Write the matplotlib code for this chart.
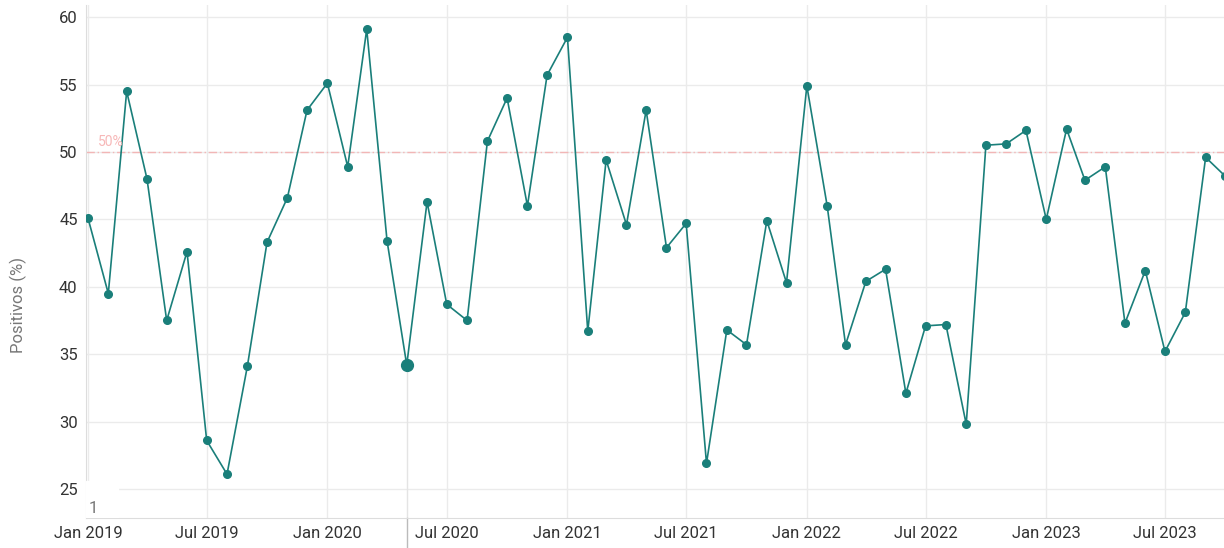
import numpy as np
import pandas as pd
import matplotlib
matplotlib.use("Agg")
import matplotlib.pyplot as plt
import matplotlib.transforms as mtransforms

plt.rcParams["font.family"] = ["Roboto", "DejaVu Sans"]

# monthly positivity (%), Jan 2019 .. Oct 2023
months = pd.date_range("2019-01-01", "2023-10-01", freq="MS")
positivos = [
    45.1, 39.5, 54.5, 48.0, 37.5, 42.6, 28.6, 26.1, 34.1, 43.3, 46.6, 53.1,
    55.1, 48.9, 59.1, 43.4, 34.2, 46.3, 38.7, 37.5, 50.8, 54.0, 46.0, 55.7,
    58.5, 36.7, 49.4, 44.6, 53.1, 42.9, 44.7, 26.9, 36.8, 35.7, 44.9, 40.3,
    54.9, 46.0, 35.7, 40.4, 41.3, 32.1, 37.1, 37.2, 29.8, 50.5, 50.6, 51.6,
    45.0, 51.7, 47.9, 48.9, 37.3, 41.2, 35.2, 38.1, 49.6, 48.2,
]
highlight = pd.Timestamp("2020-05-01")
threshold = 50
tick_dates = pd.date_range("2019-01-01", "2023-07-01", freq="6MS")
tick_labels = [d.strftime("%b %Y") for d in tick_dates]

teal = "#1a7f7a"
fig = plt.figure(figsize=(12.24, 5.48), dpi=100)
ax = fig.add_axes([86 / 1224, 30 / 548, 1 - 86 / 1224, 513 / 548])

ax.plot(months, positivos, color=teal, lw=1.2, marker="o", ms=5.5, zorder=3)
hi = list(months).index(highlight)
ax.plot([months[hi]], [positivos[hi]], "o", color=teal, ms=8.5, zorder=4)

# hover cursor under the highlighted month
ax.plot([months[hi], months[hi]], [positivos[hi], 22.85], color="#e4e4e4",
        lw=1, zorder=1)
trans = mtransforms.blended_transform_factory(ax.transData, ax.transAxes)
ax.plot([months[hi], months[hi]], [0, -30 / 513], transform=trans,
        color="#bbbbbb", lw=1, clip_on=False)

ax.axhline(threshold, color="#f2b6b6", lw=1, ls=(0, (6, 2, 1, 2)), zorder=2)
ax.text(pd.Timestamp("2019-01-16"), threshold + 0.25, "50%", color="#f7b8b8",
        fontsize=10, va="bottom", ha="left")

ax.set_xlim(pd.Timestamp("2018-12-29"), pd.Timestamp("2023-09-29"))
ax.set_ylim(22.85, 60.9)
ax.set_yticks([25, 30, 35, 40, 45, 50, 55, 60])
ax.set_xticks(tick_dates)
ax.set_xticklabels(tick_labels)
ax.grid(True, color="#ebebeb", lw=1)
ax.set_axisbelow(True)
for s in ["top", "right"]:
    ax.spines[s].set_visible(False)
for s in ["left", "bottom"]:
    ax.spines[s].set_color("#dddddd")
ax.tick_params(length=0, labelsize=12, colors="#333333", pad=6)
fig.text(18 / 1224, 1 - 305 / 548, "Positivos (%)", rotation=90, fontsize=12,
         color="#777777", ha="center", va="center")

# small box with index in the corner
ax.add_patch(plt.Rectangle((0, 0), 32 / 1138, 37 / 513, transform=ax.transAxes,
                           color="white", zorder=5))
ax.text(3 / 1138, 5 / 513, "1", transform=ax.transAxes, fontsize=12,
        color="#777777", zorder=6)

fig.savefig("out.png", dpi=100)
